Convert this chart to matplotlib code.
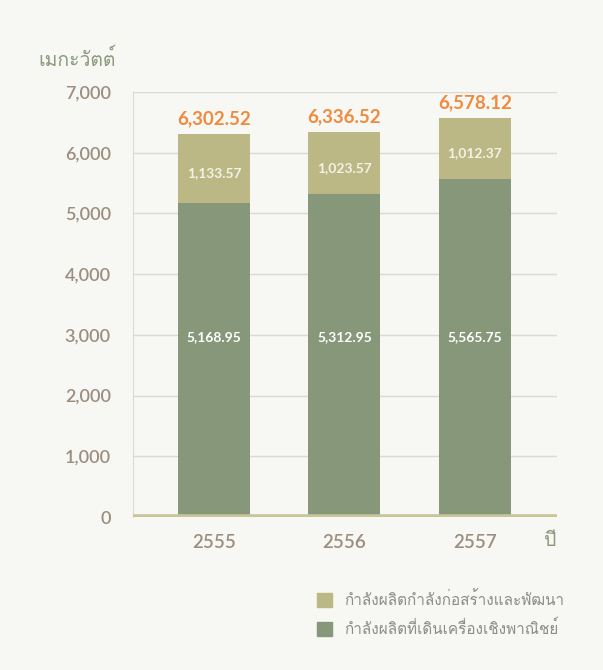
import matplotlib.pyplot as plt
import numpy as np
from matplotlib.patches import Patch
from matplotlib import font_manager
from matplotlib.ft2font import FT2Font

# data
years = ['2555', '2556', '2557']
operating = [5168.95, 5312.95, 5565.75]       # commercial operation
developing = [1133.57, 1023.57, 1012.37]      # under construction / development
totals = [6302.52, 6336.52, 6578.12]

# look for an installed family that has Thai glyphs
thai_families = []
for f in font_manager.fontManager.ttflist:
    try:
        if 0x0E01 in FT2Font(f.fname).get_charmap() and f.name not in thai_families:
            thai_families.append(f.name)
    except Exception:
        pass

plt.rcParams['font.family'] = ['Lato'] + thai_families + ['DejaVu Sans']

bg = '#f7f7f3'
c_dev = '#bbb886'
c_op = '#87977a'
tick_c = '#9b8d80'

fig = plt.figure(figsize=(6.03, 6.70), dpi=100, facecolor=bg)
ax = fig.add_axes([133 / 603, 1 - 517 / 670, (557 - 133) / 603, (517 - 92) / 670])
ax.set_facecolor(bg)

x = np.arange(len(years))
width = 0.55
ax.bar(x, operating, width, color=c_op, zorder=3)
ax.bar(x, developing, width, bottom=operating, color=c_dev, zorder=3)

for i in range(len(years)):
    ax.text(x[i], 2970, f'{operating[i]:,.2f}', ha='center', va='center',
            color='white', fontsize=10, fontweight='bold', zorder=4)
    ax.text(x[i], operating[i] + developing[i] / 2 - 70, f'{developing[i]:,.2f}', ha='center',
            va='center', color='#f4f2e6', fontsize=10, fontweight='bold', zorder=4)
    ax.text(x[i], totals[i] + 110, f'{totals[i]:,.2f}', ha='center', va='bottom',
            color='#f08a3e', fontsize=13.5, fontweight='bold', zorder=4)

ax.set_xlim(-0.62, 2.63)
ax.set_ylim(0, 7000)
ax.set_yticks(np.arange(0, 7001, 1000))
ax.set_yticklabels([f'{v:,}' for v in range(0, 7001, 1000)], fontweight='semibold')
ax.set_xticks(x)
ax.set_xticklabels(years, fontweight='semibold')
ax.tick_params(axis='y', length=0, pad=16, labelsize=13, labelcolor=tick_c)
ax.tick_params(axis='x', length=0, pad=12, labelsize=13.5, labelcolor=tick_c)
ax.grid(axis='y', color='#dcd8d3', lw=1, zorder=1)

for s in ['top', 'right', 'bottom']:
    ax.spines[s].set_visible(False)
ax.spines['left'].set_color('#dcd8d3')
ax.axhline(0, color='#c9c49a', lw=4, zorder=5)

fig.text(38 / 603, 1 - 58 / 670, 'เมกะวัตต์', color='#8a9a7c', fontsize=14,
         ha='left', va='center')
fig.text(550 / 603, 1 - 540 / 670, 'ปี', color='#8a9a7c', fontsize=14,
         ha='center', va='center')

handles = [Patch(color=c_dev, label='กำลังผลิตกำลังก่อสร้างและพัฒนา'),
           Patch(color=c_op, label='กำลังผลิตที่เดินเครื่องเชิงพาณิชย์')]
fig.legend(handles=handles, loc='lower right', bbox_to_anchor=(578 / 603, 1 - 651 / 670),
           frameon=False, fontsize=11, labelcolor='#8c8c8c', handlelength=1.0,
           handleheight=1.0, handletextpad=0.8, labelspacing=0.75)

fig.savefig('out.png', dpi=100, facecolor=bg)
